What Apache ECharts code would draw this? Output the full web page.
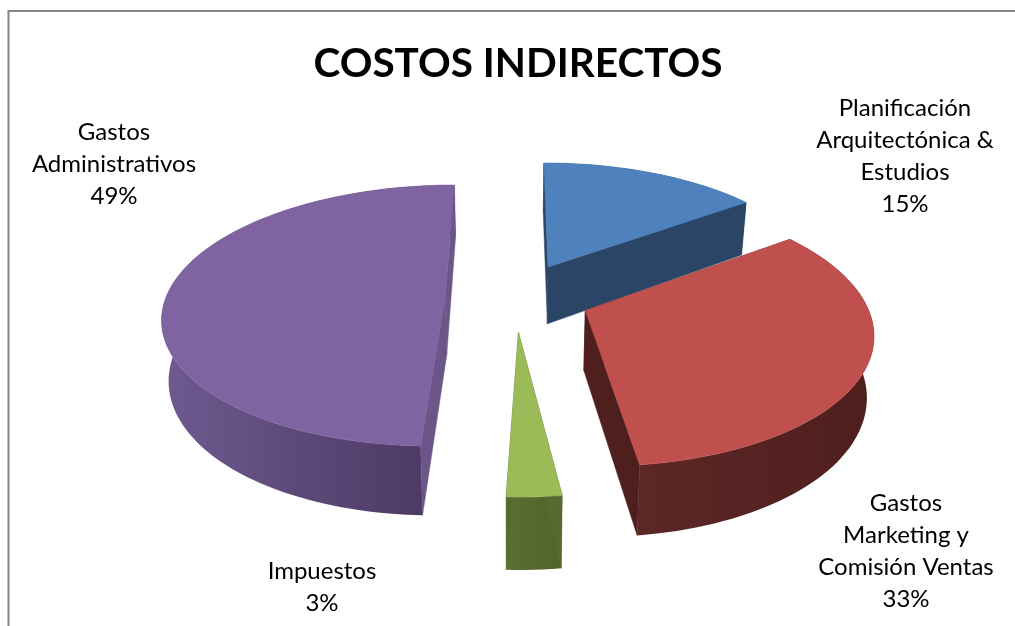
<!DOCTYPE html>
<html><head><meta charset="utf-8">
<style>html,body{margin:0;padding:0;background:#fff}#c{width:1015px;height:626px}</style>
<script src="https://cdn.jsdelivr.net/npm/echarts@6/dist/echarts.min.js"></script>
</head><body><div id="c"></div>
<script>
const titleText = 'COSTOS INDIRECTOS';
const categories = ['Planificación\nArquitectónica &\nEstudios', 'Gastos\nMarketing y\nComisión Ventas', 'Impuestos', 'Gastos\nAdministrativos'];
const values = [15, 33, 2.6, 49.4];

const topColors = ['#4f81bd', '#c0504d', '#9bbb59', '#8064a2'];
const radialColors = ['#2a4565', '#4f1f1e', '#556a2f', '#6b5589'];
const outerStops = [
  ['#2a4565', '#2a4565'],
  ['#5c2826', '#4e1e1d'],
  ['#5a6f33', '#506329'],
  ['#6f5a90', '#49365f']
];
const labelAnchors = [[905, 156], [906, 551], [322, 587], [114, 164]];
const explodes = [0.27, 0.27, 0.27, 0.25];

// Projection of the tilted, exploded pie
const P = { cx: 515, cy: 296.6, a: 279, b: 127.8, k: 0.15, depth: 59, shrink: 0.98 };
const total = values.reduce((s, v) => s + v, 0);
function proj(X, Y) { const w = 1 - P.k * Y; return [P.cx + P.a * X / w, P.cy + P.b * Y / w]; }
function low(X, Y) {
  const w = 1 - P.k * Y, t = proj(X, Y);
  return [P.cx + (t[0] - P.cx) * P.shrink, t[1] + P.depth / w];
}
function renderItem(params) {
  const i = params.dataIndex;
  let before = 0;
  for (let j = 0; j < i; j++) before += values[j];
  const a0 = before / total * 2 * Math.PI, a1 = (before + values[i]) / total * 2 * Math.PI;
  const mid = (a0 + a1) / 2;
  const ax = explodes[i] * Math.sin(mid), ay = -explodes[i] * Math.cos(mid);
  const n = Math.max(6, Math.round(values[i] * 2));
  const rim = [];
  for (let s = 0; s <= n; s++) {
    const t = a0 + (a1 - a0) * s / n;
    rim.push([ax + Math.sin(t), ay - Math.cos(t)]);
  }
  const topRim = rim.map(p => proj(p[0], p[1]));
  const lowRim = rim.map(p => low(p[0], p[1]));
  const A = proj(ax, ay), B = low(ax, ay);
  const last = rim.length - 1;
  const poly = (pts, fill) => ({ type: 'polygon', shape: { points: pts }, style: { fill: fill, stroke: fill, lineWidth: 0.5 } });
  const stops = outerStops[i];
  const grad = new echarts.graphic.LinearGradient(0, 0, 1, 0, [{ offset: 0, color: stops[0] }, { offset: 1, color: stops[1] }]);
  const children = [
    { type: 'polygon', shape: { points: topRim.concat(lowRim.slice().reverse()) }, style: { fill: grad } },
    poly([A, topRim[0], lowRim[0], B], radialColors[i]),
    poly([A, topRim[last], lowRim[last], B], radialColors[i]),
    poly([A].concat(topRim), topColors[i]),
    { type: 'text', style: { x: labelAnchors[i][0], y: labelAnchors[i][1], text: categories[i] + '\n' + Math.round(values[i]) + '%', fill: '#000', font: '24px Lato, sans-serif', lineHeight: 32, align: 'center', verticalAlign: 'middle' } }
  ];
  return { type: 'group', children: children };
}
const chart = echarts.init(document.getElementById('c'), null, { renderer: 'canvas' });
chart.setOption({
  animation: false,
  backgroundColor: '#fff',
  title: { text: titleText, left: 513, top: 38, textAlign: 'center', textStyle: { fontFamily: 'Lato', fontWeight: 'bold', fontSize: 40.5, color: '#000' } },
  graphic: [{ type: 'rect', silent: true, shape: { x: 8.5, y: 11, width: 1100, height: 700 }, style: { fill: 'none', stroke: '#868686', lineWidth: 2 } }],
  series: [{ type: 'custom', coordinateSystem: 'none', renderItem: renderItem, silent: true, clip: false,
    data: values.map((v, i) => ({ name: categories[i], value: v })) }]
});
</script></body></html>
